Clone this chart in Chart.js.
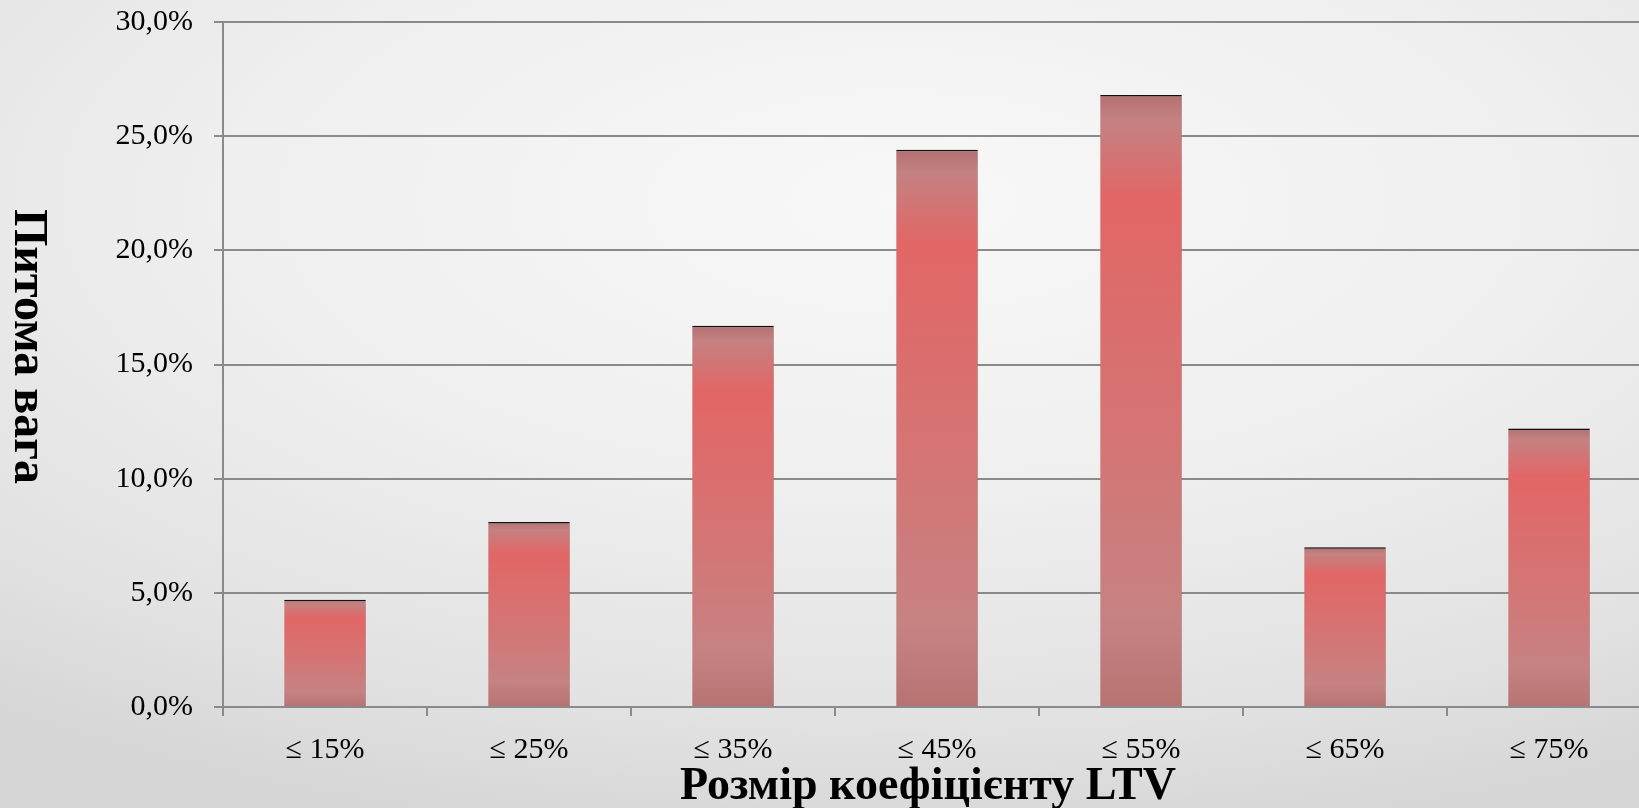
<!DOCTYPE html>
<html lang="uk">
<head>
    <meta charset="UTF-8">
    <title>Розмір коефіцієнту LTV</title>
    <style>
        html, body { margin: 0; padding: 0; }
        body {
            width: 1639px; height: 808px; overflow: hidden;
            background: radial-gradient(ellipse 90% 80% at 55% 25%, #f8f8f8 0%, #efefef 45%, #e2e2e2 80%, #d6d6d6 100%);
        }
        #wrap { position: absolute; left: 0; top: 0; width: 1660px; height: 808px; }
    </style>
</head>
<body>
    <div id="wrap"><canvas id="myChart"></canvas></div>

    <script src="https://cdn.jsdelivr.net/npm/chart.js@4/dist/chart.umd.min.js"></script>
    <script>
        // data
        var categories = ['≤ 15%', '≤ 25%', '≤ 35%', '≤ 45%', '≤ 55%', '≤ 65%', '≤ 75%'];
        var shares = [4.7, 8.1, 16.7, 24.4, 26.8, 7.0, 12.2];
        var yTicks = [0, 5, 10, 15, 20, 25, 30];
        var xTitle = 'Розмір коефіцієнту LTV';
        var yTitle = 'Питома вага';

        var serif = '"Liberation Serif", "Times New Roman", serif';
        var gridGray = '#8a8a8a';

        function barFill(c) {
            var y = c.chart.scales.y;
            if (!y || typeof c.raw !== 'number') return '#d57474';
            var top = y.getPixelForValue(c.raw);
            var bottom = y.getPixelForValue(0);
            if (!isFinite(top) || !isFinite(bottom) || top === bottom) return '#d57474';
            var g = c.chart.ctx.createLinearGradient(0, top, 0, bottom);
            g.addColorStop(0, '#b47070');
            g.addColorStop(0.04, '#c48181');
            g.addColorStop(0.17, '#e26666');
            g.addColorStop(0.55, '#d57474');
            g.addColorStop(0.86, '#c68282');
            g.addColorStop(1, '#b77272');
            return g;
        }

        // soft shadow behind the bars
        var barShadow = {
            id: 'barShadow',
            beforeDatasetsDraw: function (chart) {
                var ctx = chart.ctx;
                ctx.save();
                ctx.shadowColor = 'rgba(0,0,0,0.3)';
                ctx.shadowBlur = 4;
                ctx.shadowOffsetX = 2;
                ctx.shadowOffsetY = 1;
            },
            afterDatasetsDraw: function (chart) {
                chart.ctx.restore();
            }
        };

        // axis titles: y one reads top to bottom, x one sits a bit left of centre
        var axisTitles = {
            id: 'axisTitles',
            afterDraw: function (chart) {
                var ctx = chart.ctx;
                var area = chart.chartArea;
                ctx.save();
                ctx.fillStyle = '#000';
                ctx.textAlign = 'center';

                ctx.font = 'bold 46px ' + serif;
                ctx.textBaseline = 'alphabetic';
                ctx.fillText(xTitle, (area.left + area.right) / 2 - 9, 799);

                ctx.translate(27, (area.top + area.bottom) / 2 - 18);
                ctx.rotate(Math.PI / 2);
                ctx.font = 'bold 48px ' + serif;
                ctx.textBaseline = 'middle';
                ctx.fillText(yTitle, 0, 0);
                ctx.restore();
            }
        };

        var ctx = document.getElementById('myChart').getContext('2d');
        var myChart = new Chart(ctx, {
            type: 'bar',
            data: {
                labels: categories,
                datasets: [{
                    data: shares,
                    backgroundColor: barFill,
                    borderColor: '#111',
                    borderWidth: { top: 1.5, left: 0, right: 0, bottom: 0 },
                    borderSkipped: false,
                    barPercentage: 0.4,
                    categoryPercentage: 1.0
                }]
            },
            options: {
                responsive: true,
                maintainAspectRatio: false,
                animation: false,
                layout: { padding: { top: 22, right: 9, left: 0, bottom: 0 } },
                plugins: {
                    legend: { display: false },
                    tooltip: { enabled: false }
                },
                scales: {
                    x: {
                        grid: {
                            offset: true,
                            drawOnChartArea: false,
                            drawTicks: true,
                            tickLength: 9,
                            color: gridGray,
                            lineWidth: 2
                        },
                        border: { color: gridGray, width: 2 },
                        ticks: {
                            color: '#000',
                            padding: 16,
                            maxRotation: 0,
                            font: { family: serif, size: 30 }
                        },
                        afterFit: function (scale) { scale.height = 101; }
                    },
                    y: {
                        min: 0,
                        max: 30,
                        afterBuildTicks: function (scale) {
                            scale.ticks = yTicks.map(function (v) { return { value: v }; });
                        },
                        grid: {
                            color: gridGray,
                            lineWidth: 2,
                            drawTicks: true,
                            tickLength: 9
                        },
                        border: { color: gridGray, width: 2 },
                        ticks: {
                            color: '#000',
                            padding: 21,
                            font: { family: serif, size: 30 },
                            callback: function (v) { return v.toFixed(1).replace('.', ',') + '%'; }
                        },
                        afterFit: function (scale) {
                            scale.width = 223;
                            scale.paddingTop = 0;
                            scale.paddingBottom = 0;
                        }
                    }
                }
            },
            plugins: [barShadow, axisTitles]
        });
    </script>
</body>
</html>
